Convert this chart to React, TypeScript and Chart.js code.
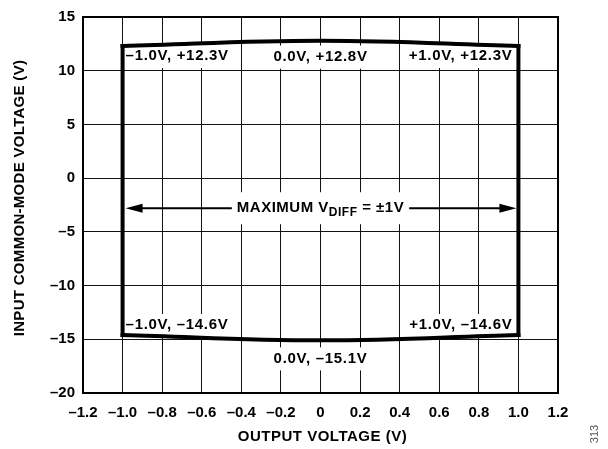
import React, { useEffect, useRef } from "react";
import { Chart, registerables } from "chart.js";

Chart.register(...registerables);

// ---- data ----
const outputVoltage = [-1.0, 0.0, 1.0];
const vcmHigh = [12.3, 12.8, 12.3];
const vcmLow = [-14.6, -15.1, -14.6];
const vdiffMax = 1.0;
const arrowLevel = -2.8;
const xTicksRange = { min: -1.2, max: 1.2, step: 0.2 };
const yTicksRange = { min: -20, max: 15, step: 5 };
const xTitle = "OUTPUT VOLTAGE (V)";
const yTitle = "INPUT COMMON-MODE VOLTAGE (V)";
const figureId = "313";

const FONT = "'Liberation Sans', Arial, Helvetica, sans-serif";

const fmtSigned = (v: number, digits: number, plus: boolean) => {
  if (v === 0) return (0).toFixed(digits);
  const s = Math.abs(v).toFixed(digits);
  return v < 0 ? "\u2013" + s : (plus ? "+" : "") + s;
};

const cornerLabel = (x: number, y: number) =>
  `${fmtSigned(x, 1, true)}V, ${fmtSigned(y, 1, true)}V`;

export default function App() {
  const ref = useRef<HTMLCanvasElement>(null);

  useEffect(() => {
    const canvas = ref.current!;
    const LS = "0.7px";

    function getLabelSpecs(xs: any, ys: any) {
      const specs: any[] = [];
      outputVoltage.forEach((x, i) => {
        const px = xs.getPixelForValue(x);
        const align = i === 0 ? "left" : i === outputVoltage.length - 1 ? "right" : "center";
        const dx = i === 0 ? 3 : i === outputVoltage.length - 1 ? -6 : 0;
        const hiOff = i === 1 ? 16 : 10;
        const loOff = i === 1 ? 18 : -10;
        specs.push({ text: cornerLabel(x, vcmHigh[i]), x: px + dx, y: ys.getPixelForValue(vcmHigh[i]) + hiOff, align });
        specs.push({ text: cornerLabel(x, vcmLow[i]), x: px + dx, y: ys.getPixelForValue(vcmLow[i]) + loOff, align });
      });
      return specs;
    }
    function getMidSpec(xs: any, ys: any) {
      return { cx: xs.getPixelForValue(0), cy: ys.getPixelForValue(arrowLevel) };
    }

    const labelsPlugin = {
      id: "annot",
      beforeDatasetsDraw(chart: any) {
        const { ctx, scales } = chart;
        const xs = scales.x;
        const ys = scales.y;
        ctx.save();
        ctx.font = `bold 15px ${FONT}`;
        (ctx as any).letterSpacing = LS;
        ctx.fillStyle = "#fff";
        getLabelSpecs(xs, ys).forEach((b: any) => {
          const w = ctx.measureText(b.text).width;
          const left = b.align === "left" ? b.x : b.align === "right" ? b.x - w : b.x - w / 2;
          ctx.fillRect(left - 4, b.y - 11, w + 8, 23);
        });
        const mid = getMidSpec(xs, ys);
        ctx.fillRect(mid.cx - 88, mid.cy - 16, 176, 32);
        ctx.restore();
      },
      afterDatasetsDraw(chart: any) {
        const { ctx, chartArea, scales } = chart;
        const xs = scales.x;
        const ys = scales.y;
        ctx.save();
        ctx.strokeStyle = "#000";
        ctx.lineWidth = 2;
        ctx.strokeRect(chartArea.left, chartArea.top, chartArea.right - chartArea.left, chartArea.bottom - chartArea.top);

        ctx.fillStyle = "#000";
        ctx.font = `bold 15px ${FONT}`;
        (ctx as any).letterSpacing = LS;
        ctx.textBaseline = "middle";
        getLabelSpecs(xs, ys).forEach((b: any) => {
          ctx.textAlign = b.align;
          ctx.fillText(b.text, b.x, b.y);
        });

        const mid = getMidSpec(xs, ys);
        const p1 = "MAXIMUM V";
        const sub = "DIFF";
        const p2 = ` = \u00b1${vdiffMax}V`;
        (ctx as any).letterSpacing = "0.5px";
        ctx.font = `bold 15px ${FONT}`;
        const w1 = ctx.measureText(p1).width;
        const w3 = ctx.measureText(p2).width;
        ctx.font = `bold 12px ${FONT}`;
        const w2 = ctx.measureText(sub).width;
        const total = w1 + w2 + w3;
        const sx = mid.cx - total / 2;
        ctx.textAlign = "left";
        ctx.font = `bold 15px ${FONT}`;
        ctx.fillText(p1, sx, mid.cy);
        ctx.font = `bold 12px ${FONT}`;
        ctx.fillText(sub, sx + w1, mid.cy + 4);
        ctx.font = `bold 15px ${FONT}`;
        ctx.fillText(p2, sx + w1 + w2, mid.cy);
        const textL = sx - 5;
        const textR = sx + total + 5;

        const xl = xs.getPixelForValue(-vdiffMax) + 3;
        const xr = xs.getPixelForValue(vdiffMax) - 2;
        const ay = ys.getPixelForValue(arrowLevel);
        ctx.strokeStyle = "#000";
        ctx.lineWidth = 2;
        ctx.beginPath();
        ctx.moveTo(xl + 10, ay);
        ctx.lineTo(textL, ay);
        ctx.moveTo(textR, ay);
        ctx.lineTo(xr - 10, ay);
        ctx.stroke();
        ctx.beginPath();
        ctx.moveTo(xl, ay);
        ctx.lineTo(xl + 17, ay - 4.5);
        ctx.lineTo(xl + 17, ay + 4.5);
        ctx.closePath();
        ctx.moveTo(xr, ay);
        ctx.lineTo(xr - 17, ay - 4.5);
        ctx.lineTo(xr - 17, ay + 4.5);
        ctx.closePath();
        ctx.fill();

        ctx.font = `bold 15px ${FONT}`;
        ctx.textAlign = "center";
        ctx.textBaseline = "middle";
        (ctx as any).letterSpacing = "0.5px";
        ctx.fillText(xTitle, (chartArea.left + chartArea.right) / 2 + 2, 437);
        ctx.save();
        (ctx as any).letterSpacing = "0.3px";
        ctx.translate(20, 198);
        ctx.rotate(-Math.PI / 2);
        ctx.fillText(yTitle, 0, 0);
        ctx.restore();

        ctx.save();
        (ctx as any).letterSpacing = "0px";
        ctx.font = `11px ${FONT}`;
        ctx.fillStyle = "#555";
        ctx.translate(595, 434);
        ctx.rotate(-Math.PI / 2);
        ctx.fillText(figureId, 0, 0);
        ctx.restore();
        ctx.restore();
      },
    };

    const lineStyle = {
      borderColor: "#000",
      borderWidth: 4,
      pointRadius: 0,
      showLine: true,
      fill: false,
      borderCapStyle: "square" as const,
      borderJoinStyle: "miter" as const,
    };

    const chart = new Chart(canvas, {
      type: "scatter",
      data: {
        datasets: [
          { ...lineStyle, data: outputVoltage.map((x, i) => ({ x, y: vcmHigh[i] })), tension: 0.4 },
          { ...lineStyle, data: outputVoltage.map((x, i) => ({ x, y: vcmLow[i] })), tension: 0.4 },
          { ...lineStyle, data: [{ x: outputVoltage[0], y: vcmLow[0] }, { x: outputVoltage[0], y: vcmHigh[0] }] },
          {
            ...lineStyle,
            data: [
              { x: outputVoltage[outputVoltage.length - 1], y: vcmLow[vcmLow.length - 1] },
              { x: outputVoltage[outputVoltage.length - 1], y: vcmHigh[vcmHigh.length - 1] },
            ],
          },
        ],
      },
      options: {
        responsive: false,
        animation: false,
        layout: { padding: { top: 13, right: 50, left: 0, bottom: 0 } },
        plugins: { legend: { display: false }, tooltip: { enabled: false } },
        scales: {
          x: {
            type: "linear",
            min: xTicksRange.min,
            max: xTicksRange.max,
            afterFit: (s: any) => { s.height = 56; },
            ticks: {
              stepSize: xTicksRange.step,
              color: "#000",
              padding: 11,
              maxRotation: 0,
              autoSkip: false,
              font: { family: FONT, size: 15, weight: "bold" },
              callback: (v: any) => {
                const n = Math.round(Number(v) * 10) / 10;
                return n === 0 ? "0" : fmtSigned(n, 1, false);
              },
            },
            grid: { color: "#111", lineWidth: 1, drawTicks: false },
            border: { display: false },
          },
          y: {
            type: "linear",
            min: yTicksRange.min,
            max: yTicksRange.max,
            afterFit: (s: any) => { s.width = 83; },
            ticks: {
              stepSize: yTicksRange.step,
              color: "#000",
              padding: 8,
              font: { family: FONT, size: 15, weight: "bold" },
              callback: (v: any) => fmtSigned(Number(v), 0, false),
            },
            grid: { color: "#111", lineWidth: 1, drawTicks: false },
            border: { display: false },
          },
        },
      },
      plugins: [labelsPlugin],
    } as any);
    return () => chart.destroy();
  }, []);

  return (
    <div style={{ position: "absolute", left: 0, top: 0, width: 608, height: 449, background: "#fff" }}>
      <canvas ref={ref} width={608} height={449} style={{ display: "block" }} />
    </div>
  );
}
